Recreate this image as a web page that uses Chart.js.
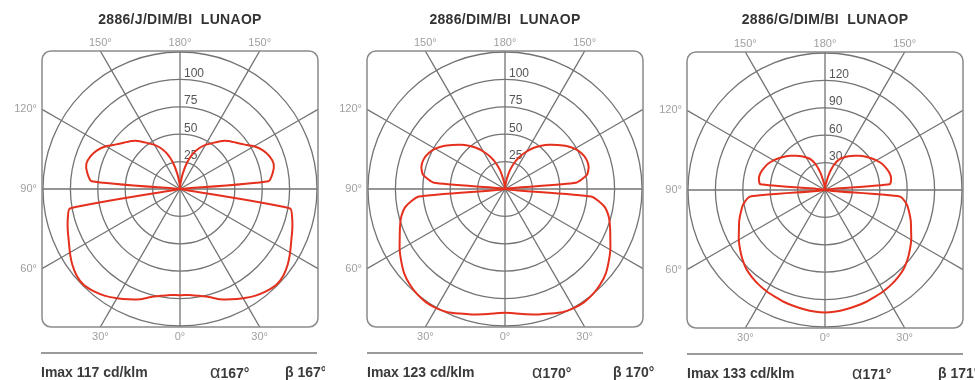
<!DOCTYPE html>
<html>
<head>
<meta charset="utf-8">
<script src="https://cdn.jsdelivr.net/npm/chart.js@4.4.1/dist/chart.umd.min.js"></script>
<style>
  body { margin: 0; background: #fff; font-family: "Liberation Sans", Arial, sans-serif; }
  #wrap { position: relative; width: 975px; height: 380px; overflow: hidden; }
  .panel { position: absolute; top: 0; height: 380px; background: #fff; overflow: hidden; }
  .panel canvas { position: absolute; top: 0; }
  .title { position: absolute; top: 11px; width: 300px; text-align: center; font-weight: bold; font-size: 14px; letter-spacing: 0.3px; color: #333; white-space: pre; }
  .rule { position: absolute; top: 352px; width: 276px; border-top: 2px solid #9a9a9a; }
  .foot { position: absolute; top: 364px; font-size: 14px; font-weight: bold; color: #3a3a3a; white-space: nowrap; line-height: 16px; }
  .alpha { font-size: 18px; font-weight: normal; }
</style>
</head>
<body>
<div id="wrap">
  <div class="panel" style="left:0;width:325px">
    <canvas id="polarJ" width="325" height="380" style="left:0"></canvas>
    <div class="title" style="left:30px">2886/J/DIM/BI  LUNAOP</div>
    <div class="rule" style="left:41px"></div>
    <div class="foot" style="left:41px">Imax 117 cd/klm</div>
    <div class="foot" style="left:210px"><span class="alpha">α</span>167°</div>
    <div class="foot" style="left:285px">β 167°</div>
  </div>
  <div class="panel" style="left:325px;width:331px">
    <canvas id="polarStd" width="325" height="380" style="left:0"></canvas>
    <div class="title" style="left:30px">2886/DIM/BI  LUNAOP</div>
    <div class="rule" style="left:42px"></div>
    <div class="foot" style="left:42px">Imax 123 cd/klm</div>
    <div class="foot" style="left:207px"><span class="alpha">α</span>170°</div>
    <div class="foot" style="left:288px">β 170°</div>
  </div>
  <div class="panel" style="left:656px;width:319px">
    <canvas id="polarG" width="325" height="380" style="left:-6px"></canvas>
    <div class="title" style="left:19px">2886/G/DIM/BI  LUNAOP</div>
    <div class="rule" style="left:31px;top:353px"></div>
    <div class="foot" style="left:31px;top:365px">Imax 133 cd/klm</div>
    <div class="foot" style="left:196px;top:365px"><span class="alpha">α</span>171°</div>
    <div class="foot" style="left:282px;top:365px">β 171°</div>
  </div>
</div>
<script>
// gamma angle (0 = straight down, 180 = straight up), 5 degree steps
const gammaDeg = [0, 5, 10, 15, 20, 25, 30, 35, 40, 45, 50, 55, 60, 65, 70, 75, 80, 85, 90,
                  95, 100, 105, 110, 115, 120, 125, 130, 135, 140, 145, 150, 155, 160, 165, 170, 175, 180];

// intensity in cd/klm for each gamma above (curve is symmetric left/right)
const intensityJ = [97, 97, 99, 102, 107, 111, 115, 119, 122, 124, 123, 120, 116, 112, 109, 106, 102, 0, 0,
                    81, 86, 88.5, 87, 83.5, 78, 71, 66, 62, 57, 51, 46.5, 41, 34, 25, 14, 5, 0];
const intensityStd = [113, 114, 116, 118.5, 121, 124, 125.5, 126, 125, 123, 120, 115.5, 111, 106, 102, 98, 92, 79, 0,
                      65, 76, 79, 79, 77, 73.5, 68.5, 62.5, 57, 51.5, 46, 39.5, 33, 26, 18, 9, 3, 0];
const intensityG = [134, 133.5, 132.5, 131.5, 130.5, 129, 128, 126.5, 124.5, 122, 118, 113.5, 109, 104, 100, 95.5, 91, 82, 0,
                    71, 73.5, 73, 71, 68.5, 65, 61, 57, 53, 49, 45, 41, 37, 30, 20, 9, 3, 0];

const ringTicksA = [25, 50, 75, 100, 125];
const ringTicksG = [30, 60, 90, 120, 150];

const topAngleLabels = ['150°', '180°', '150°'];
const sideAngleLabels = ['120°', '90°', '60°'];
const bottomAngleLabels = ['30°', '0°', '30°'];

const gridColor = '#737373';

// square frame, spokes out to the frame, angle labels and ring values
const framePlugin = {
    id: 'frame',
    beforeDatasetsDraw(chart, args, opts) {
        const s = chart.scales.r;
        const ctx = chart.ctx;
        const cx = s.xCenter, cy = s.yCenter, R = s.drawingArea;
        const h = R + 1;
        ctx.save();
        ctx.strokeStyle = gridColor;
        ctx.lineWidth = 1.3;
        for (let k = 0; k < 12; k++) {
            const a = k * Math.PI / 6;
            const dx = Math.sin(a), dy = -Math.cos(a);
            const t = h / Math.max(Math.abs(dx), Math.abs(dy));
            ctx.beginPath();
            ctx.moveTo(cx + dx * R, cy + dy * R);
            ctx.lineTo(cx + dx * t, cy + dy * t);
            ctx.stroke();
        }
        ctx.strokeStyle = '#8a8a8a';
        ctx.lineWidth = 1.5;
        ctx.beginPath();
        ctx.roundRect(cx - h, cy - h, 2 * h, 2 * h, 9);
        ctx.stroke();

        ctx.fillStyle = '#a0a0a0';
        ctx.font = '11px "Liberation Sans", Arial, sans-serif';
        const off = h * Math.tan(Math.PI / 6);
        ctx.textAlign = 'center';
        ctx.textBaseline = 'middle';
        [-off, 0, off].forEach((d, i) => {
            ctx.fillText(topAngleLabels[i], cx + d, cy - h - 8);
            ctx.fillText(bottomAngleLabels[i], cx + d, cy + h + 10);
        });
        ctx.textAlign = 'right';
        [-off, 0, off].forEach((d, i) => {
            ctx.fillText(sideAngleLabels[i], cx - h - 5, cy + d);
        });

        ctx.fillStyle = '#555';
        ctx.font = '12px "Liberation Sans", Arial, sans-serif';
        ctx.textAlign = 'left';
        ctx.textBaseline = 'alphabetic';
        opts.ticks.slice(0, -1).forEach(v => {
            const d = s.getDistanceFromCenterForValue(v);
            ctx.fillText(String(v), cx + 4, cy - d - 2.5);
        });
        ctx.restore();
    }
};

const drawPanel = (id, half, ringTicks, pad) => {
    const labels = [];
    const values = [];
    // radar goes clockwise from the top: right half 180 -> 0, then left half 0 -> 175
    for (let i = 0; i < 72; i++) {
        const g = i <= 36 ? 36 - i : i - 36;
        labels.push(gammaDeg[g] + '°');
        values.push(half[g]);
    }
    return new Chart(document.getElementById(id), {
        type: 'radar',
        data: {
            labels: labels,
            datasets: [{
                data: values,
                borderColor: '#e5301d',
                borderWidth: 2,
                borderJoinStyle: 'round',
                pointRadius: 0,
                fill: false,
                tension: 0.2
            }]
        },
        options: {
            responsive: false,
            animation: false,
            layout: { padding: pad },
            plugins: {
                legend: { display: false },
                tooltip: { enabled: false },
                frame: { ticks: ringTicks }
            },
            scales: {
                r: {
                    min: 0,
                    max: ringTicks[ringTicks.length - 1],
                    ticks: { stepSize: ringTicks[1] - ringTicks[0], display: false },
                    pointLabels: { display: false },
                    grid: { circular: true, color: gridColor, lineWidth: 1.3 },
                    angleLines: {
                        color: gridColor,
                        lineWidth: (c) => c.index % 6 === 0 ? 1.3 : 0
                    }
                }
            }
        },
        plugins: [framePlugin]
    });
};

drawPanel('polarJ', intensityJ, ringTicksA, { left: 43, right: 8, top: 52, bottom: 54 });
drawPanel('polarStd', intensityStd, ringTicksA, { left: 43, right: 8, top: 52, bottom: 54 });
drawPanel('polarG', intensityG, ringTicksG, { left: 38, right: 13, top: 53, bottom: 53 });
</script>
</body>
</html>
